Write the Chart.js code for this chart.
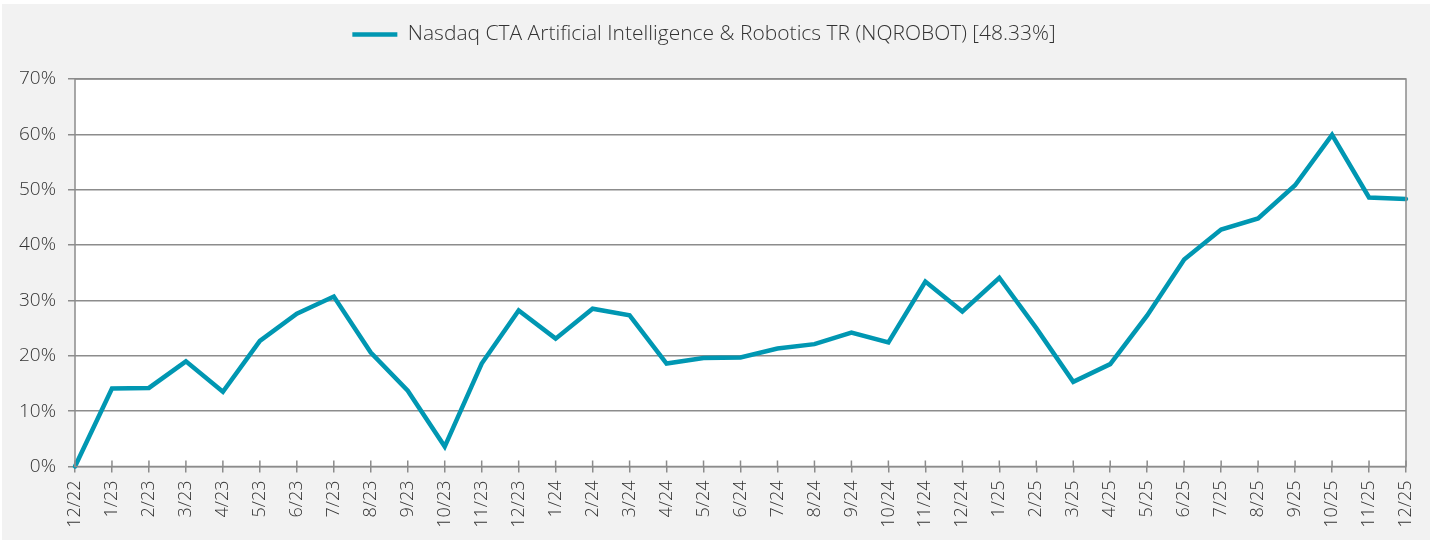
<!doctype html>
<html lang="en">
<head>
    <meta charset="utf-8">
    <title>NQROBOT</title>
    <style>
        body {
            margin: 0;
            background: #ffffff;
        }

        .box {
            position: absolute;
            left: 2px;
            top: 4px;
            width: 1428px;
            height: 536px;
            background: #f2f2f2;
        }
    </style>
</head>
<body>
    <div class="box">
        <canvas id="robotChart" width="1428" height="536"></canvas>
    </div>
    <script src="https://cdn.jsdelivr.net/npm/chart.js"></script>
    <script>
        const months = ['12/22', '1/23', '2/23', '3/23', '4/23', '5/23', '6/23', '7/23', '8/23', '9/23', '10/23', '11/23',
            '12/23', '1/24', '2/24', '3/24', '4/24', '5/24', '6/24', '7/24', '8/24', '9/24', '10/24', '11/24',
            '12/24', '1/25', '2/25', '3/25', '4/25', '5/25', '6/25', '7/25', '8/25', '9/25', '10/25', '11/25', '12/25'];

        const nqrobot = [0, 14.1, 14.2, 19.0, 13.5, 22.7, 27.6, 30.7, 20.6, 13.7, 3.6, 18.6,
            28.2, 23.1, 28.5, 27.3, 18.6, 19.6, 19.7, 21.3, 22.1, 24.2, 22.4, 33.4,
            28.0, 34.1, 25.0, 15.3, 18.5, 27.3, 37.4, 42.8, 44.8, 50.8, 59.9, 48.6, 48.33];

        const seriesName = 'Nasdaq CTA Artificial Intelligence & Robotics TR (NQROBOT) [48.33%]';
        const yTicks = [0, 10, 20, 30, 40, 50, 60, 70];

        const textColor = '#333333';
        const gridColor = '#8c8c8c';
        const fontFamily = "'Open Sans', sans-serif";

        // white plot area, frame round it and the inner half of the x ticks
        const framePlugin = {
            id: 'frame',
            afterInit(chart) {
                // extra room under the legend
                const fit = chart.legend.fit;
                chart.legend.fit = function () {
                    fit.call(this);
                    this.height += 24;
                };
            },
            beforeDraw(chart) {
                const { ctx, chartArea } = chart;
                ctx.save();
                ctx.fillStyle = '#ffffff';
                ctx.fillRect(chartArea.left, chartArea.top, chartArea.right - chartArea.left, chartArea.bottom - chartArea.top);
                ctx.restore();
            },
            afterDraw(chart) {
                const { ctx, chartArea } = chart;
                const xScale = chart.scales.x;
                ctx.save();
                ctx.strokeStyle = gridColor;
                ctx.lineWidth = 1.5;
                ctx.strokeRect(chartArea.left, chartArea.top, chartArea.right - chartArea.left, chartArea.bottom - chartArea.top);
                ctx.beginPath();
                months.forEach((m, i) => {
                    const x = xScale.getPixelForTick(i);
                    ctx.moveTo(x, chartArea.bottom);
                    ctx.lineTo(x, chartArea.bottom - 6);
                });
                ctx.stroke();
                ctx.restore();
            }
        };

        new Chart(document.getElementById('robotChart'), {
            type: 'line',
            data: {
                labels: months,
                datasets: [{
                    label: seriesName,
                    data: nqrobot,
                    borderColor: '#0097b2',
                    backgroundColor: '#0097b2',
                    borderWidth: 4.5,
                    pointRadius: 0,
                    tension: 0,
                    borderCapStyle: 'round',
                    borderJoinStyle: 'miter',
                    clip: false
                }]
            },
            options: {
                responsive: false,
                animation: false,
                layout: {
                    padding: { top: 0, right: 24, left: 0, bottom: 0 }
                },
                plugins: {
                    legend: {
                        position: 'top',
                        labels: {
                            usePointStyle: true,
                            pointStyle: 'line',
                            pointStyleWidth: 45,
                            color: textColor,
                            padding: 20,
                            font: { family: fontFamily, size: 21, weight: '300' }
                        }
                    },
                    tooltip: { enabled: false }
                },
                scales: {
                    x: {
                        offset: false,
                        grid: {
                            drawOnChartArea: false,
                            color: gridColor,
                            lineWidth: 1.5,
                            tickLength: 6
                        },
                        border: { display: false },
                        ticks: {
                            color: textColor,
                            autoSkip: false,
                            minRotation: 90,
                            maxRotation: 90,
                            padding: 8,
                            font: { family: fontFamily, size: 18, weight: '300' }
                        },
                        afterFit(scale) {
                            scale.height = 73.5;
                            scale.paddingRight = 0;
                            scale.paddingLeft = 0;
                        }
                    },
                    y: {
                        min: 0,
                        max: 70,
                        afterBuildTicks(scale) {
                            scale.ticks = yTicks.map(v => ({ value: v }));
                        },
                        grid: {
                            color: gridColor,
                            lineWidth: 1.5,
                            tickLength: 7
                        },
                        border: { display: false },
                        ticks: {
                            color: textColor,
                            padding: 12,
                            callback: v => v + '%',
                            font: { family: fontFamily, size: 19, weight: '300' }
                        },
                        afterFit(scale) {
                            scale.width = 73;
                        }
                    }
                }
            },
            plugins: [framePlugin]
        });
    </script>
</body>
</html>
